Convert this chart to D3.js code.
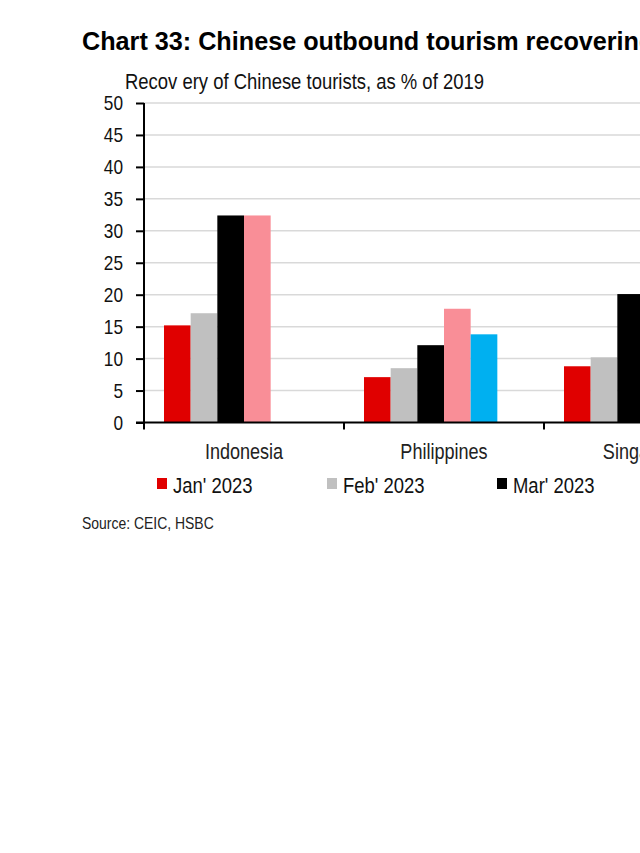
<!DOCTYPE html>
<html>
<head>
<meta charset="utf-8">
<script src="https://cdn.jsdelivr.net/npm/d3@7"></script>
<style>
  body { margin: 0; background: #fff; overflow: hidden; }
  svg { display: block; }
  text { font-family: "Liberation Sans", Arial, sans-serif; }
</style>
</head>
<body>
<div id="chart"></div>
<script>
var width = 640,
	height = 853;

// data
var countries = ['Indonesia', 'Philippines', 'Singapore'];
var seriesNames = ["Jan' 2023", "Feb' 2023", "Mar' 2023", "Apr' 2023", "May' 2023"];
var seriesColors = ['#e00000', '#c0c0c0', '#000000', '#f98e97', '#00b0f0'];
var janValues = [15.2, 7.1, 8.8];
var febValues = [17.1, 8.5, 10.2];
var marValues = [32.4, 12.1, 20.1];
var aprValues = [32.4, 17.8, null];
var mayValues = [null, 13.8, null];
var yTicks = [0, 5, 10, 15, 20, 25, 30, 35, 40, 45, 50];

var seriesValues = [janValues, febValues, marValues, aprValues, mayValues];

var svg = d3.select('#chart')
	.append('svg')
	.attr('width', width)
	.attr('height', height);

var plotLeft = 144, plotTop = 103, plotBottom = 422.5;

// the source uses a narrow face; squeeze the regular one instead
function condense(sel) {
	sel.each(function() {
		var len = this.getComputedTextLength();
		d3.select(this)
			.attr('textLength', len * 0.82)
			.attr('lengthAdjust', 'spacingAndGlyphs');
	});
}

var y = d3.scaleLinear()
	.domain([0, 50])
	.range([plotBottom, plotTop]);

var x0 = d3.scaleBand()
	.domain(countries)
	.range([plotLeft, plotLeft + 200 * countries.length])
	.paddingInner(0.2)
	.paddingOuter(0.1);

// six slots per group, the last one is empty
var x1 = d3.scaleBand()
	.domain(seriesNames)
	.range([0, x0.bandwidth() * 5 / 6]);

// title
svg.append('text')
	.attr('x', 82)
	.attr('y', 50)
	.attr('font-weight', 'bold')
	.attr('font-size', 25.2)
	.attr('fill', '#000')
	.text('Chart 33: Chinese outbound tourism recovering');

svg.append('text')
	.attr('x', 125)
	.attr('y', 89)
	.attr('font-size', 22.5)
	.attr('fill', '#111')
	.text('Recov ery of Chinese tourists, as % of 2019')
	.call(condense);

// gridlines
svg.append('g')
	.selectAll('line')
	.data(yTicks.slice(1))
	.join('line')
	.attr('x1', plotLeft)
	.attr('x2', width + 50)
	.attr('y1', function(d) { return y(d); })
	.attr('y2', function(d) { return y(d); })
	.attr('stroke', '#d9d9d9')
	.attr('stroke-width', 1.5);

// bars
var groups = svg.append('g')
	.selectAll('g')
	.data(countries)
	.join('g')
	.attr('transform', function(d) { return 'translate(' + x0(d) + ',0)'; });

groups.selectAll('rect')
	.data(function(d, i) {
		return seriesNames.map(function(s, j) {
			return { key: s, value: seriesValues[j][i], color: seriesColors[j] };
		}).filter(function(e) { return e.value != null; });
	})
	.join('rect')
	.attr('x', function(d) { return x1(d.key); })
	.attr('width', x1.bandwidth())
	.attr('y', function(d) { return y(d.value); })
	.attr('height', function(d) { return y(0) - y(d.value); })
	.attr('fill', function(d) { return d.color; });

// y axis
var yAxis = svg.append('g')
	.attr('transform', 'translate(' + plotLeft + ',0)')
	.call(d3.axisLeft(y).tickValues(yTicks).tickSize(8).tickPadding(13));
yAxis.selectAll('path, line').attr('stroke', '#000').attr('stroke-width', 2);
yAxis.select('.domain').attr('d', 'M0,' + plotTop + 'V' + plotBottom);
yAxis.selectAll('text')
	.attr('font-size', 21)
	.attr('fill', '#111')
	.attr('font-family', null)
	.call(condense);

// x axis
svg.append('line')
	.attr('x1', plotLeft - 8)
	.attr('x2', width + 50)
	.attr('y1', y(0))
	.attr('y2', y(0))
	.attr('stroke', '#000')
	.attr('stroke-width', 2);

svg.append('g')
	.selectAll('line')
	.data(d3.range(countries.length + 1))
	.join('line')
	.attr('x1', function(d) { return plotLeft + x0.step() * d; })
	.attr('x2', function(d) { return plotLeft + x0.step() * d; })
	.attr('y1', y(0))
	.attr('y2', y(0) + 7)
	.attr('stroke', '#000')
	.attr('stroke-width', 2);

svg.append('g')
	.selectAll('text')
	.data(countries)
	.join('text')
	.attr('x', function(d) { return x0(d) + x0.bandwidth() / 2; })
	.attr('y', 459)
	.attr('text-anchor', 'middle')
	.attr('font-size', 22)
	.attr('fill', '#222')
	.text(function(d) { return d; })
	.call(condense);

// legend
var legend = svg.append('g')
	.selectAll('g')
	.data(seriesNames)
	.join('g')
	.attr('transform', function(d, i) { return 'translate(' + (157 + i * 170) + ',478)'; });

legend.append('rect')
	.attr('width', 10)
	.attr('height', 11)
	.attr('fill', function(d, i) { return seriesColors[i]; });

legend.append('text')
	.attr('x', 16)
	.attr('y', 15)
	.attr('font-size', 22.5)
	.attr('fill', '#111')
	.text(function(d) { return d; })
	.call(condense);

svg.append('text')
	.attr('x', 82)
	.attr('y', 529)
	.attr('font-size', 17)
	.attr('fill', '#222')
	.text('Source: CEIC, HSBC')
	.call(condense);
</script>
</body>
</html>
